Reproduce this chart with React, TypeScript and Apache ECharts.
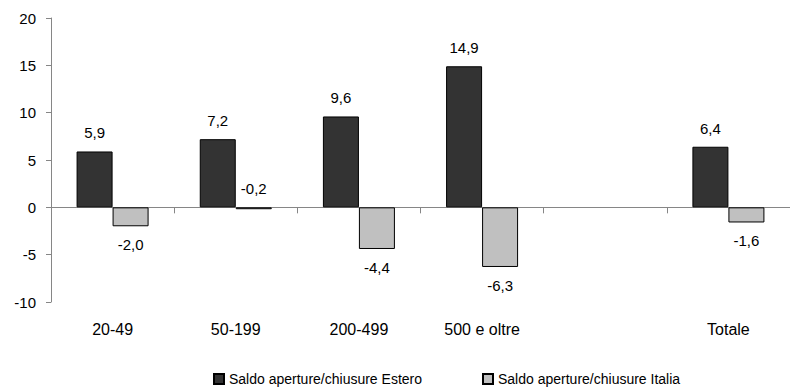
import React, { useEffect, useRef } from "react";
import * as echarts from "echarts";

const categories = ["20-49", "50-199", "200-499", "500 e oltre", "", "Totale"];
const estero = [5.9, 7.2, 9.6, 14.9, null, 6.4];
const italia = [-2.0, -0.2, -4.4, -6.3, null, -1.6];
const italiaLabelPos = ["bottom", "top", "bottom", "bottom", "bottom", "bottom"];
const seriesNames = ["Saldo aperture/chiusure Estero", "Saldo aperture/chiusure Italia"];
const yTicks = { min: -10, max: 20, interval: 5 };

const FONT = "'Liberation Sans', Arial, sans-serif";
const fmt = (v: number) => v.toFixed(1).replace(".", ",");

export default function App() {
  const ref = useRef<HTMLDivElement>(null);
  useEffect(() => {
    if (!ref.current) return;
    const chart = echarts.init(ref.current, null, { renderer: "svg" });
    const mk = (vals: (number | null)[], pos?: string[]) =>
      vals.map((v, i) =>
        v === null
          ? null
          : {
              value: v,
              label: { position: pos ? pos[i] : v >= 0 ? "top" : "bottom" },
            }
      );
    const labelCfg = {
      show: true,
      distance: 11,
      fontSize: 15,
      color: "#000",
      fontFamily: FONT,
      formatter: (p: any) => fmt(p.value),
    };
    chart.setOption({
      animation: false,
      textStyle: { fontFamily: FONT },
      grid: { left: 51, right: -5, top: 18, bottom: 88, containLabel: false },
      legend: {
        data: seriesNames,
        left: 208,
        top: 367,
        itemWidth: 10,
        itemHeight: 10,
        itemGap: 60,
        icon: "rect",
        textStyle: { fontFamily: FONT, fontSize: 14, color: "#000" },
      },
      xAxis: [
        {
          type: "category",
          data: categories,
          axisLine: { onZero: true, lineStyle: { color: "#868686", width: 1 } },
          axisTick: { show: true, length: 6, lineStyle: { color: "#868686" } },
          axisLabel: { show: false },
          splitLine: { show: false },
        },
        {
          type: "category",
          data: categories,
          position: "bottom",
          axisLine: { show: false, onZero: false },
          axisTick: { show: false },
          axisLabel: { show: true, margin: 19, fontSize: 16, color: "#000", fontFamily: FONT, interval: 0 },
          splitLine: { show: false },
        },
      ],
      yAxis: {
        type: "value",
        min: yTicks.min,
        max: yTicks.max,
        interval: yTicks.interval,
        axisLine: { show: true, lineStyle: { color: "#868686" } },
        axisTick: { show: true, length: 5, lineStyle: { color: "#868686" } },
        axisLabel: { margin: 15, fontSize: 15, color: "#000", fontFamily: FONT },
        splitLine: { show: false },
      },
      series: [
        {
          name: seriesNames[0],
          type: "bar",
          xAxisIndex: 0,
          barWidth: 36,
          barGap: "0%",
          data: mk(estero),
          itemStyle: { color: "#333333", borderColor: "#000", borderWidth: 1 },
          label: labelCfg,
        },
        {
          name: seriesNames[1],
          type: "bar",
          xAxisIndex: 0,
          barWidth: 36,
          barGap: "0%",
          data: mk(italia, italiaLabelPos),
          itemStyle: { color: "#c0c0c0", borderColor: "#000", borderWidth: 1 },
          label: labelCfg,
        },
      ],
    });
    return () => chart.dispose();
  }, []);
  return (
    <div
      ref={ref}
      style={{ position: "fixed", left: 0, top: 0, width: 790, height: 390, background: "#fff" }}
    />
  );
}
